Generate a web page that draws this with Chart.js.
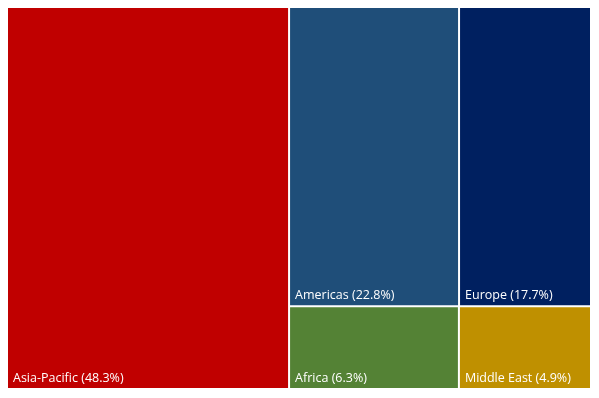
<!DOCTYPE html>
<html>
<head>
<meta charset="utf-8">
<script src="https://cdn.jsdelivr.net/npm/chart.js@4"></script>
<style>
  html, body { margin: 0; padding: 0; background: #ffffff; }
  #wrap { width: 599px; height: 398px; }
</style>
</head>
<body>
<div id="wrap"><canvas id="c" width="599" height="398"></canvas></div>
<script>
const categories = ["Asia-Pacific", "Americas", "Europe", "Africa", "Middle East"];
const shares = [48.3, 22.8, 17.7, 6.3, 4.9];
const colors = ["#C00000", "#1F4E79", "#002060", "#548235", "#BF9000"];

// Treemap layout in data units (0..100 on both axes)
function layout() {
  const total = shares.reduce((a, b) => a + b, 0);
  const cells = [];
  const w0 = shares[0] / total * 100;
  cells.push({ i: 0, x0: 0, x1: w0, y0: 0, y1: 100 });
  const rest = [[1, 2], [3, 4]];
  const restTotal = total - shares[0];
  let y = 0;
  rest.forEach(row => {
    const rs = row.reduce((a, k) => a + shares[k], 0);
    const h = rs / restTotal * 100;
    let x = w0;
    row.forEach(k => {
      const w = shares[k] / rs * (100 - w0);
      cells.push({ i: k, x0: x, x1: x + w, y0: y, y1: y + h });
      x += w;
    });
    y += h;
  });
  return cells;
}

const treemapPlugin = {
  id: 'treemapCells',
  afterDatasetsDraw(chart) {
    const ctx = chart.ctx;
    const xs = chart.scales.x, ys = chart.scales.y;
    const gap = 1;
    ctx.save();
    layout().forEach(c => {
      const L = xs.getPixelForValue(c.x0) + gap;
      const R = xs.getPixelForValue(c.x1) - gap;
      const T = ys.getPixelForValue(c.y0) + gap;
      const B = ys.getPixelForValue(c.y1) - gap;
      ctx.fillStyle = colors[c.i];
      ctx.fillRect(L, T, R - L, B - T);
      ctx.fillStyle = '#ffffff';
      ctx.font = '12.5px "Open Sans", "Noto Sans", sans-serif';
      ctx.textBaseline = 'alphabetic';
      ctx.textAlign = 'left';
      ctx.fillText(categories[c.i] + ' (' + shares[c.i].toFixed(1) + '%)', L + 5, B - 6);
    });
    ctx.restore();
  }
};

new Chart(document.getElementById('c'), {
  type: 'scatter',
  data: {
    datasets: [{
      label: 'Share',
      data: categories.map((c, i) => ({ x: 0, y: 0 })),
      pointRadius: 0,
      pointHoverRadius: 0
    }]
  },
  options: {
    responsive: false,
    animation: false,
    events: [],
    layout: { padding: { left: 7, right: 8, top: 7, bottom: 9 } },
    plugins: { legend: { display: false }, tooltip: { enabled: false } },
    scales: {
      x: { type: 'linear', min: 0, max: 100, display: false },
      y: { type: 'linear', min: 0, max: 100, reverse: true, display: false }
    }
  },
  plugins: [treemapPlugin]
});
</script>
</body>
</html>
